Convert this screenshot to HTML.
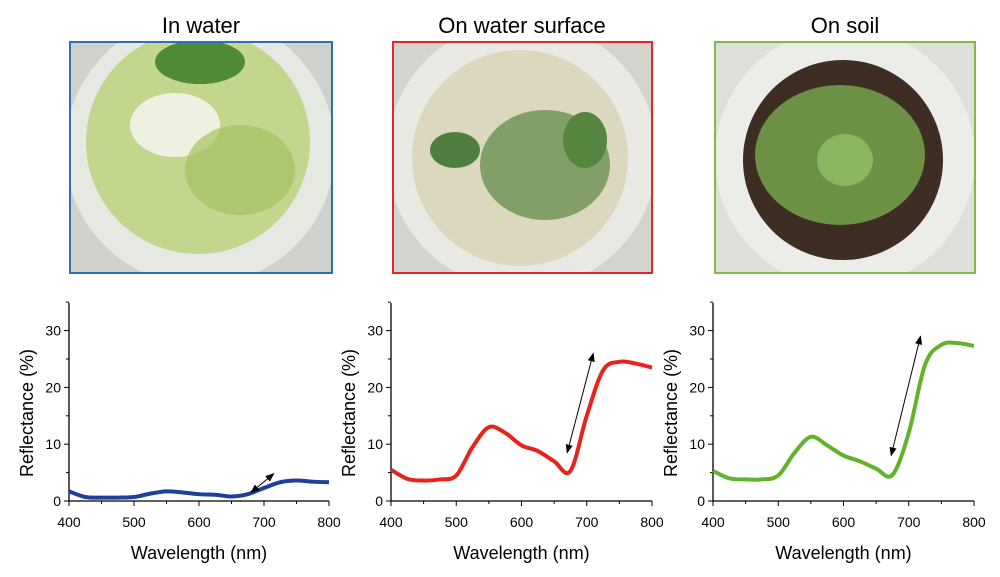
<!DOCTYPE html>
<html><head><meta charset="utf-8"><style>
body{margin:0;background:#fff;width:1000px;height:577px;overflow:hidden;font-family:"Liberation Sans",sans-serif}
</style></head><body>
<svg id="fig" width="1000" height="577" style="position:absolute;left:0;top:0">
<defs>
<marker id="ah" viewBox="0 0 10 10" refX="9" refY="5" markerWidth="9" markerHeight="9" orient="auto-start-reverse"><path d="M0,1 L10,5 L0,9z" fill="#000"/></marker>
<clipPath id="c1"><rect x="70" y="42" width="262" height="231"/></clipPath>
<clipPath id="c2"><rect x="393" y="42" width="259" height="231"/></clipPath>
<clipPath id="c3"><rect x="715" y="42" width="260" height="231"/></clipPath>
</defs>
<g font-size="22" fill="#000" text-anchor="middle">
<text x="201" y="33">In water</text>
<text x="522" y="33">On water surface</text>
<text x="845" y="33">On soil</text>
</g>
<g>
<g clip-path="url(#c1)">
<rect x="70" y="42" width="262" height="231" fill="#cfd2cc"/>
<circle cx="200" cy="150" r="135" fill="#e6e9e2"/>
<circle cx="198" cy="142" r="112" fill="#c2d68e"/>
<ellipse cx="175" cy="125" rx="45" ry="32" fill="#eef0e2"/>
<ellipse cx="200" cy="62" rx="45" ry="22" fill="#4f8a38"/>
<ellipse cx="240" cy="170" rx="55" ry="45" fill="#a4c25e" opacity=".7"/>
</g>
<rect x="70" y="42" width="262" height="231" fill="none" stroke="#2f6fb6" stroke-width="2"/>
</g>
<g>
<g clip-path="url(#c2)">
<rect x="393" y="42" width="259" height="231" fill="#d4d4ce"/>
<circle cx="522" cy="155" r="135" fill="#e9e9e3"/>
<circle cx="520" cy="158" r="108" fill="#dcd8c0"/>
<ellipse cx="545" cy="165" rx="65" ry="55" fill="#6a9150" opacity=".8"/>
<ellipse cx="455" cy="150" rx="25" ry="18" fill="#4f7e3e"/>
<ellipse cx="585" cy="140" rx="22" ry="28" fill="#56853f"/>
</g>
<rect x="393" y="42" width="259" height="231" fill="none" stroke="#e3262a" stroke-width="2"/>
</g>
<g>
<g clip-path="url(#c3)">
<rect x="715" y="42" width="260" height="231" fill="#dedfda"/>
<circle cx="845" cy="158" r="130" fill="#ecece8"/>
<circle cx="843" cy="160" r="100" fill="#3e2d22"/>
<ellipse cx="840" cy="155" rx="85" ry="70" fill="#75a34a" opacity=".85"/>
<ellipse cx="845" cy="160" rx="28" ry="26" fill="#8cb560"/>
</g>
<rect x="715" y="42" width="260" height="231" fill="none" stroke="#7dbd42" stroke-width="2"/>
</g>
<g id="charts"></g>
</svg>
<script>
const wavelengths=[400,425,450,475,500,525,550,575,600,625,650,675,700,725,750,775,800];
const waterValues=[1.7,0.7,0.6,0.6,0.7,1.3,1.7,1.5,1.2,1.1,0.8,1.2,2.3,3.3,3.6,3.4,3.3];
const surfaceValues=[5.5,3.9,3.6,3.8,4.5,9.5,13,12,9.8,8.8,7,5.3,15,23,24.5,24.2,23.5];
const soilValues=[5.3,4,3.8,3.8,4.5,8.5,11.3,9.8,8,7,5.7,4.6,12,24,27.5,27.8,27.3];
const xTicks=[400,500,600,700,800];
const yTicks=[0,10,20,30];
const arrowsWater=[680,1.5,715,4.8];
const arrowsSurface=[670,8.5,710,26];
const arrowsSoil=[673,8,718,29];
const NS='http://www.w3.org/2000/svg';
const root=document.getElementById('charts');
function mk(tag,attrs,parent){const e=document.createElementNS(NS,tag);for(const k in attrs)e.setAttribute(k,attrs[k]);parent.appendChild(e);return e;}
function chart(x0,x1,vals,color,arrow,name){
  const y0=501,top=303;
  const sx=v=>x0+(v-400)/400*(x1-x0);
  const sy=v=>y0-v*5.68;
  const g=mk('g',{},root);
  
  
  const ax=mk('path',{d:`M${x0},${top}V${y0}H${x1}`,stroke:'#000','stroke-width':1.3,fill:'none'},g);
  
  
  for(let v=400;v<=800;v+=50){mk('line',{x1:sx(v),x2:sx(v),y1:y0,y2:y0+(v%100?3:5),stroke:'#000'},g);}
  for(let v=0;v<=35;v+=5){mk('line',{x1:x0,x2:x0-(v%10?3:5),y1:sy(v),y2:sy(v),stroke:'#000'},g);}
  xTicks.forEach(t=>{const e=mk('text',{x:sx(t),y:y0+26,'font-size':14,'text-anchor':'middle'},g);e.textContent=t;
    
    });
  yTicks.forEach(t=>{const e=mk('text',{x:x0-8,y:sy(t)+5,'font-size':14,'text-anchor':'end'},g);e.textContent=t;
    
    });
  const xt=mk('text',{x:(x0+x1)/2,y:559,'font-size':18,'text-anchor':'middle'},g);xt.textContent='Wavelength (nm)';
  
  
  const yt=mk('text',{x:0,y:0,'font-size':18,'text-anchor':'middle',transform:`translate(${x0-36},${sy(15.5)}) rotate(-90)`},g);yt.textContent='Reflectance (%)';
  
  
  const P=wavelengths.map((w,i)=>[sx(w),sy(vals[i])]);
  let d=`M${P[0][0]},${P[0][1]}`;
  for(let i=0;i<P.length-1;i++){const p0=P[Math.max(0,i-1)],p1=P[i],p2=P[i+1],p3=P[Math.min(P.length-1,i+2)];
    d+=`C${p1[0]+(p2[0]-p0[0])/6},${p1[1]+(p2[1]-p0[1])/6} ${p2[0]-(p3[0]-p1[0])/6},${p2[1]-(p3[1]-p1[1])/6} ${p2[0]},${p2[1]}`;}
  const ln=mk('path',{d,stroke:color,'stroke-width':4,fill:'none','stroke-linejoin':'round'},g);
  
  
  const ar=mk('line',{x1:sx(arrow[0]),y1:sy(arrow[1]),x2:sx(arrow[2]),y2:sy(arrow[3]),stroke:'#000','stroke-width':1,'marker-start':'url(#ah)','marker-end':'url(#ah)'},g);
  
  
}
chart(69,329,waterValues,'#1f3f9c',arrowsWater,'chart-in-water');
chart(391,652,surfaceValues,'#e8221d',arrowsSurface,'chart-on-water-surface');
chart(713,974,soilValues,'#63b22c',arrowsSoil,'chart-on-soil');
</script>
</body></html>
